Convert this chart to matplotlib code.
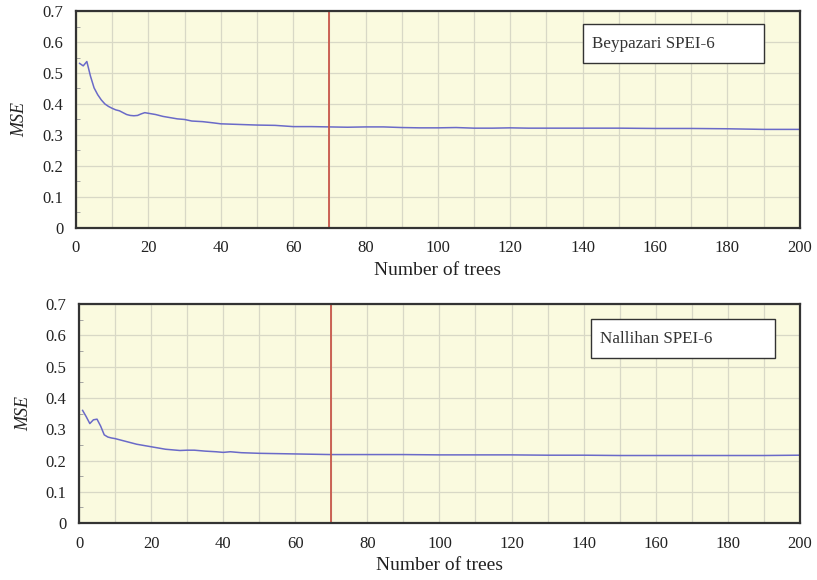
import matplotlib
matplotlib.use("Agg")
import matplotlib.pyplot as plt
from matplotlib.ticker import MultipleLocator

plt.rcParams['font.family'] = ['Liberation Serif', 'DejaVu Serif']

# Beypazari SPEI-6
trees_b = [1, 2, 3, 4, 5, 6, 7, 8, 9, 10, 11, 12, 13, 14, 15, 16, 17, 18, 19, 20,
           22, 24, 26, 28, 30, 32, 35, 38, 40, 45, 50, 55, 60, 65, 70, 75, 80, 85,
           90, 95, 100, 105, 110, 115, 120, 125, 130, 140, 150, 160, 170, 180, 190, 200]
mse_b = [0.531, 0.523, 0.537, 0.490, 0.452, 0.430, 0.413, 0.400, 0.392, 0.386, 0.381,
         0.378, 0.372, 0.366, 0.363, 0.362, 0.363, 0.368, 0.372, 0.370, 0.366, 0.360,
         0.356, 0.352, 0.350, 0.345, 0.343, 0.339, 0.336, 0.334, 0.332, 0.331, 0.327,
         0.327, 0.326, 0.325, 0.326, 0.326, 0.324, 0.323, 0.323, 0.324, 0.322, 0.322,
         0.323, 0.322, 0.322, 0.322, 0.322, 0.321, 0.321, 0.320, 0.318, 0.318]

# Nallihan SPEI-6
trees_n = [1, 2, 3, 4, 5, 6, 7, 8, 9, 10, 12, 14, 16, 18, 20, 22, 24, 26, 28, 30, 32,
           35, 38, 40, 42, 45, 50, 55, 60, 65, 70, 80, 90, 100, 110, 120, 130, 140,
           150, 160, 170, 180, 190, 200]
mse_n = [0.360, 0.340, 0.318, 0.330, 0.332, 0.310, 0.282, 0.275, 0.272, 0.270, 0.264,
         0.258, 0.252, 0.248, 0.244, 0.240, 0.236, 0.234, 0.232, 0.233, 0.233, 0.230,
         0.228, 0.226, 0.228, 0.225, 0.223, 0.222, 0.221, 0.220, 0.219, 0.219, 0.219,
         0.218, 0.218, 0.218, 0.217, 0.217, 0.216, 0.216, 0.216, 0.216, 0.216, 0.217]

x_ticks = [0, 20, 40, 60, 80, 100, 120, 140, 160, 180, 200]
y_ticks = [0, 0.1, 0.2, 0.3, 0.4, 0.5, 0.6, 0.7]
y_ticklabels = ['0', '0.1', '0.2', '0.3', '0.4', '0.5', '0.6', '0.7']
chosen_trees = 70
titles = ['Beypazari SPEI-6', 'Nallihan SPEI-6']

fig = plt.figure(figsize=(8.17, 5.8), dpi=100)
ax1 = fig.add_axes([0.093, 0.607, 0.886, 0.374])
ax2 = fig.add_axes([0.0967, 0.098, 0.8823, 0.378])

box_pos = [(140, 0.532, 190, 0.658), (142, 0.526, 193, 0.652)]

for ax, xs, ys, title, bp in zip([ax1, ax2], [trees_b, trees_n], [mse_b, mse_n], titles, box_pos):
    ax.set_facecolor('#FAFADF')
    ax.set_xlim(0, 200)
    ax.set_ylim(0, 0.7)
    ax.xaxis.set_minor_locator(MultipleLocator(10))
    ax.yaxis.set_minor_locator(MultipleLocator(0.05))
    ax.set_xticks(x_ticks)
    ax.set_yticks(y_ticks)
    ax.set_yticklabels(y_ticklabels)
    ax.grid(True, which='major', color='#D8D8C6', linewidth=0.9)
    ax.grid(True, which='minor', axis='x', color='#D8D8C6', linewidth=0.9)
    ax.set_axisbelow(True)
    ax.tick_params(axis='both', which='major', length=0, labelsize=12, pad=9, colors='#222222')
    ax.tick_params(axis='y', which='minor', length=3, direction='in', color='#999999')
    ax.tick_params(axis='x', which='minor', length=0)
    for sp in ax.spines.values():
        sp.set_color('#333333')
        sp.set_linewidth(1.6)
    ax.plot(xs, ys, color='#6A6AC8', linewidth=1.1)
    ax.axvline(chosen_trees, color='#C8574A', linewidth=1.3)
    ax.set_xlabel('Number of trees', fontsize=14, color='#222222', labelpad=4)
    ax.set_ylabel('MSE', fontsize=13, style='italic', color='#222222', labelpad=10)
    x0, y0, x1, y1 = bp
    ax.add_patch(plt.Rectangle((x0, y0), x1 - x0, y1 - y0, facecolor='white',
                               edgecolor='#333333', linewidth=1.0, zorder=5))
    ax.text(x0 + 2.5, (y0 + y1) / 2, title, fontsize=12.3, va='center', ha='left',
            color='#333333', zorder=6)

fig.savefig('out.png', dpi=100)
